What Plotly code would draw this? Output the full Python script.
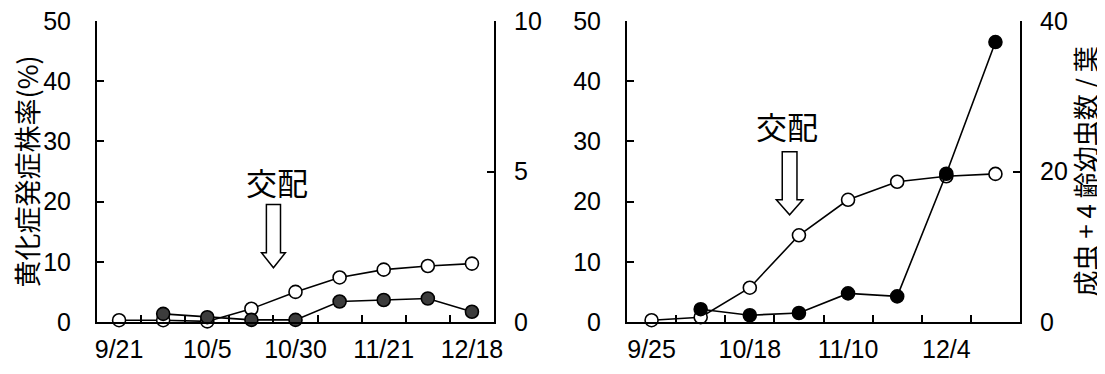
import plotly.graph_objects as go

# ---- data ----
left_dates = ["9/21", "", "10/5", "", "10/30", "", "11/21", "", "12/18"]
left_rate = [0.3, 0.3, 0.1, 2.2, 5.0, 7.4, 8.7, 9.3, 9.7]
left_count = [None, 0.27, 0.16, 0.07, 0.07, 0.68, 0.73, 0.78, 0.34]

right_dates = ["9/25", "", "10/18", "", "11/10", "", "12/4", ""]
right_rate = [0.3, 0.8, 5.7, 14.4, 20.3, 23.3, 24.2, 24.6]
right_count = [None, 1.7, 0.9, 1.2, 3.8, 3.4, 19.7, 37.2]

left_title = "黄化症発症株率(%)"
right_title = "成虫 + 4 齢幼虫数 / 葉"
mating = "交配"

FONT = "Liberation Sans, Arial, Noto Sans CJK JP, sans-serif"
CJK = "Noto Sans CJK JP, sans-serif"
OFF = 8  # default page body margin
W, H = 1105 - OFF, 374 - OFF

def fx(px):
    return (px - OFF) / W

def fy(py):
    return (H - (py - OFF)) / H

fig = go.Figure()

lx = list(range(len(left_dates)))
rx = list(range(len(right_dates)))

def add_series(x, y, xa, ya, fill):
    fig.add_trace(go.Scatter(
        x=x, y=y, xaxis=xa, yaxis=ya, mode="lines+markers",
        line=dict(color="black", width=1.6),
        marker=dict(symbol="circle", size=13, color=fill,
                    line=dict(color="black", width=1.6)),
        showlegend=False, connectgaps=False, hoverinfo="skip", cliponaxis=False))

add_series(lx, left_rate, "x", "y", "white")
add_series(lx, left_count, "x", "y2", "#3c3c3c")
add_series(rx, right_rate, "x2", "y3", "white")
add_series(rx, right_count, "x2", "y4", "black")

tickfont = dict(family=FONT, size=25, color="black")

def xaxis(domain, labels):
    n = len(labels)
    return dict(domain=domain, range=[-0.5, n - 0.5], showgrid=False, zeroline=False,
                showline=True, linecolor="black", linewidth=2, automargin=False,
                tickmode="array", tickvals=list(range(n)), ticktext=labels,
                ticks="", tickfont=tickfont, ticklabelstandoff=4,
                ticklabeloverflow="allow",
                minor=dict(tickmode="array", tickvals=[i + 0.5 for i in range(n - 1)],
                           ticks="inside", ticklen=7, tickwidth=1.5, tickcolor="black",
                           showgrid=False),
                fixedrange=True)

def yaxis(domain, rng, dtick, side, anchor, overlaying=None, standoff=15):
    d = dict(domain=domain, range=rng, dtick=dtick, tick0=0, side=side, anchor=anchor,
             showgrid=False, zeroline=False, showline=True, linecolor="black",
             linewidth=2, ticks="inside", ticklen=7, tickwidth=1.5, tickcolor="black",
             tickfont=tickfont, ticklabelstandoff=standoff, fixedrange=True,
             automargin=False, ticklabeloverflow="allow")
    if overlaying:
        d["overlaying"] = overlaying
    return d

ydom = [fy(322), fy(21)]
fig.update_layout(
    width=W, height=H, margin=dict(l=0, r=0, t=0, b=0),
    paper_bgcolor="white", plot_bgcolor="rgba(0,0,0,0)",
    xaxis=xaxis([fx(97), fx(494)], left_dates) | dict(anchor="y"),
    xaxis2=xaxis([fx(627), fx(1020)], right_dates) | dict(anchor="y3"),
    yaxis=yaxis(ydom, [0, 50], 10, "left", "x", standoff=19),
    yaxis2=yaxis(ydom, [0, 10], 5, "right", "x", overlaying="y", standoff=13),
    yaxis3=yaxis(ydom, [0, 50], 10, "left", "x2", standoff=19),
    yaxis4=yaxis(ydom, [0, 40], 20, "right", "x2", overlaying="y3", standoff=13),
)

# axis titles
ymid = (fy(322) + fy(21)) / 2
fig.add_annotation(x=fx(26), y=ymid, xref="paper", yref="paper", text=left_title,
                   textangle=-90, showarrow=False,
                   font=dict(family=CJK, size=27, color="black"),
                   xanchor="center", yanchor="middle")
fig.add_annotation(x=fx(1084), y=ymid, xref="paper", yref="paper", text=right_title,
                   textangle=-90, showarrow=False,
                   font=dict(family=CJK, size=26, color="black"),
                   xanchor="center", yanchor="middle")

def block_arrow(xref, yref, x, ytop, yhead, ytip, sw, hw):
    path = (f"M {x - sw} {ytop} L {x + sw} {ytop} L {x + sw} {yhead} "
            f"L {x + hw} {yhead} L {x} {ytip} L {x - hw} {yhead} L {x - sw} {yhead} Z")
    fig.add_shape(type="path", path=path, xref=xref, yref=yref,
                  line=dict(color="black", width=1.5), fillcolor="white")

block_arrow("x", "y", 3.5, 19.5, 11.5, 9.0, 0.16, 0.27)
block_arrow("x2", "y3", 2.81, 28.3, 20.3, 17.8, 0.15, 0.27)

fig.add_annotation(x=3.57, y=23.3, xref="x", yref="y", text=mating, showarrow=False,
                   font=dict(family=CJK, size=31, color="black"))
fig.add_annotation(x=2.76, y=32.7, xref="x2", yref="y3", text=mating, showarrow=False,
                   font=dict(family=CJK, size=31, color="black"))

fig.write_html("out.html")
